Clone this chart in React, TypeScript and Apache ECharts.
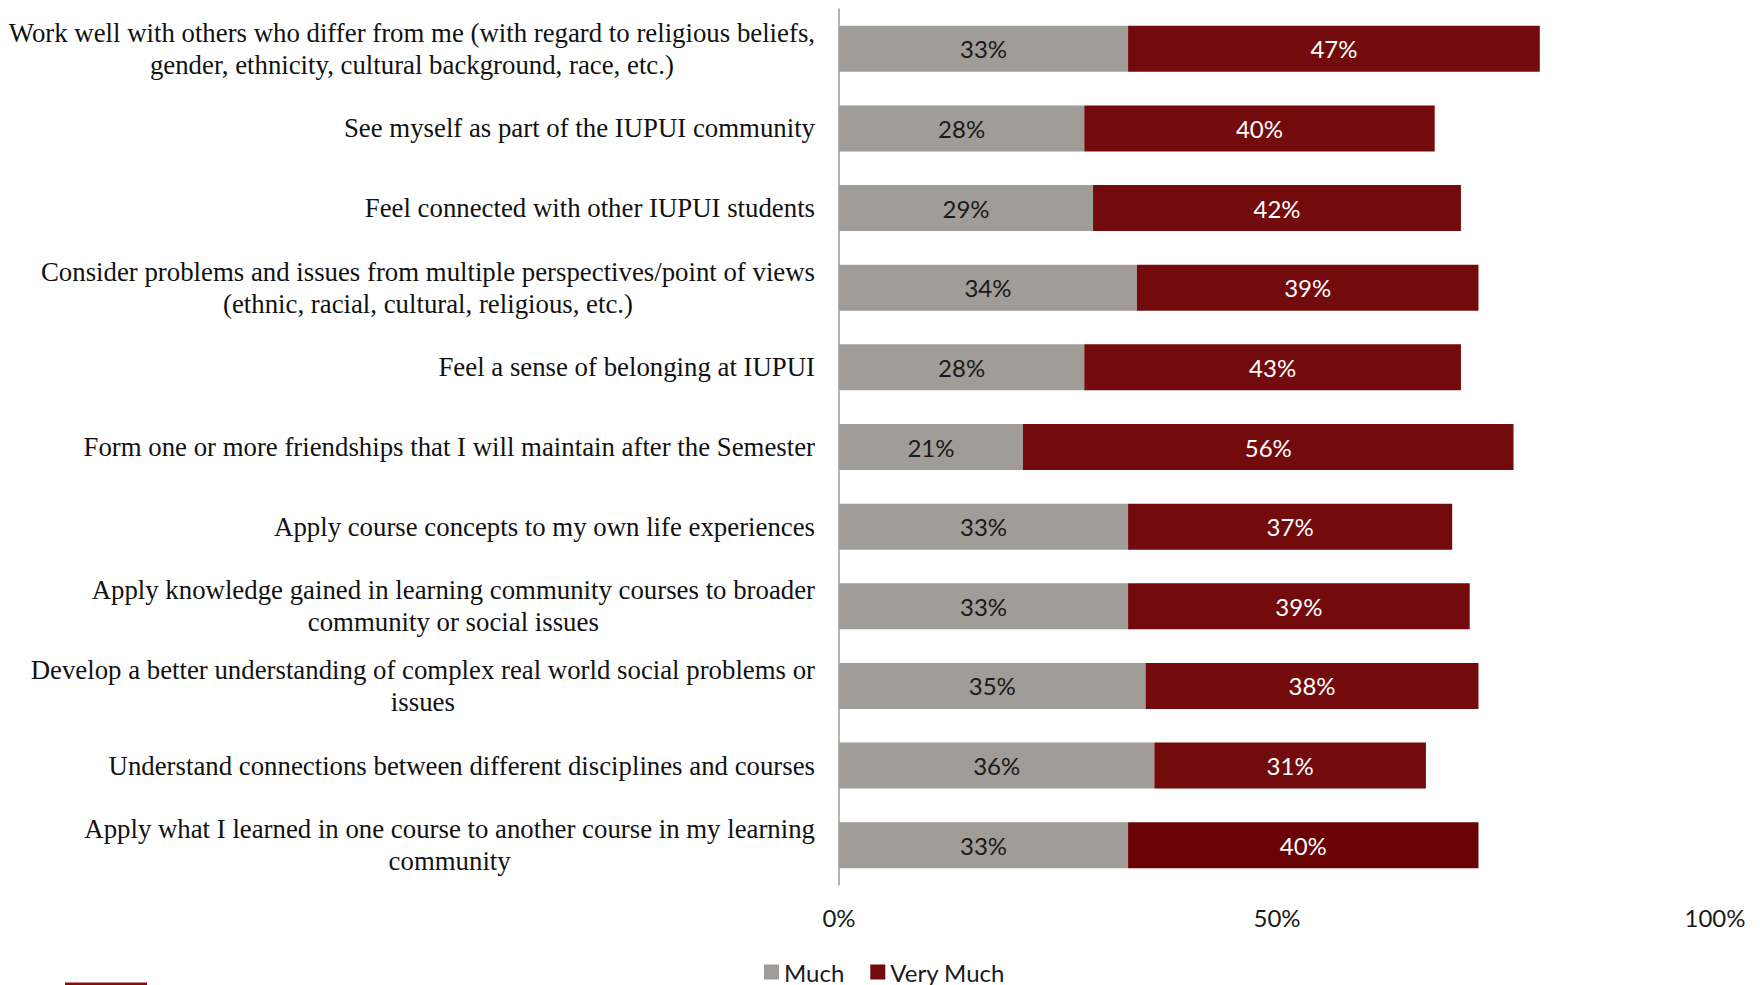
import React, { useEffect, useRef } from "react";
import * as echarts from "echarts";

const categories = [
  "Work well with others who differ from me (with regard to religious beliefs,\ngender, ethnicity, cultural background, race, etc.)",
  "See myself as part of the IUPUI community",
  "Feel connected with other IUPUI students",
  "Consider problems and issues from multiple perspectives/point of views\n(ethnic, racial, cultural, religious, etc.)",
  "Feel a sense of belonging at IUPUI",
  "Form one or more friendships that I will maintain after the Semester",
  "Apply course concepts to my own life experiences",
  "Apply knowledge gained in learning community courses to broader\ncommunity or social issues",
  "Develop a better understanding of complex real world social problems or\nissues",
  "Understand connections between different disciplines and courses",
  "Apply what I learned in one course to another course in my learning\ncommunity",
];

const much = [33, 28, 29, 34, 28, 21, 33, 33, 35, 36, 33];
const veryMuch = [47, 40, 42, 39, 43, 56, 37, 39, 38, 31, 40];

const xTicks = [0, 50, 100];

export default function App() {
  const ref = useRef<HTMLDivElement>(null);
  useEffect(() => {
    document.body.style.margin = "0";
    if (!ref.current) return;
    const chart = echarts.init(ref.current, undefined, { renderer: "svg" });
    const labelFont = "Lato, 'Open Sans', sans-serif";
    const lastIdx = veryMuch.length - 1;
    chart.setOption({
      animation: false,
      backgroundColor: "#ffffff",
      grid: { left: 839, right: 45, top: 9, bottom: 100, containLabel: false },
      legend: {
        data: ["Much", "Very Much"],
        left: 764,
        top: 960,
        padding: 0,
        icon: "rect",
        itemWidth: 15,
        itemHeight: 15,
        itemGap: 26,
        textStyle: { fontFamily: labelFont, fontSize: 24, lineHeight: 24, color: "#1a1a1a" },
      },
      xAxis: {
        type: "value",
        min: 0,
        max: 100,
        interval: 50,
        axisLine: { show: false },
        axisTick: { show: false },
        splitLine: { show: false },
        axisLabel: {
          margin: 20,
          fontFamily: labelFont,
          fontSize: 24,
          color: "#1a1a1a",
          formatter: (v: number) => (xTicks.includes(v) ? v + "%" : ""),
        },
      },
      yAxis: {
        type: "category",
        inverse: true,
        data: categories,
        axisLine: { show: true, lineStyle: { color: "#9a9a9a", width: 1.5 } },
        axisTick: { show: false },
        axisLabel: {
          margin: 24,
          formatter: (v: string) =>
            v
              .split("\n")
              .map((l) => `{c|${l}}`)
              .join("\n"),
          rich: {
            c: {
              align: "center",
              fontFamily: "'Liberation Serif', 'Times New Roman', serif",
              fontSize: 26.8,
              lineHeight: 32,
              color: "#111111",
            },
          },
        },
      },
      series: [
        {
          name: "Much",
          type: "bar",
          stack: "total",
          barWidth: 46,
          data: much,
          itemStyle: { color: "#A09C97" },
          label: {
            show: true,
            position: "inside",
            formatter: "{c}%",
            fontFamily: labelFont,
            fontSize: 24,
            color: "#1a1a1a",
          },
        },
        {
          name: "Very Much",
          type: "bar",
          stack: "total",
          barWidth: 46,
          data: veryMuch.map((v, i) =>
            i === lastIdx ? { value: v, itemStyle: { color: "#6A0203" } } : v
          ),
          itemStyle: { color: "#730A0B" },
          label: {
            show: true,
            position: "inside",
            formatter: "{c}%",
            fontFamily: labelFont,
            fontSize: 24,
            color: "#ffffff",
          },
        },
      ],
      graphic: [
        {
          type: "rect",
          shape: { x: 65, y: 982.5, width: 82, height: 3 },
          style: { fill: "#8E0808" },
        },
      ],
    });
    return () => chart.dispose();
  }, []);
  return <div ref={ref} style={{ width: 1760, height: 985 }} />;
}
